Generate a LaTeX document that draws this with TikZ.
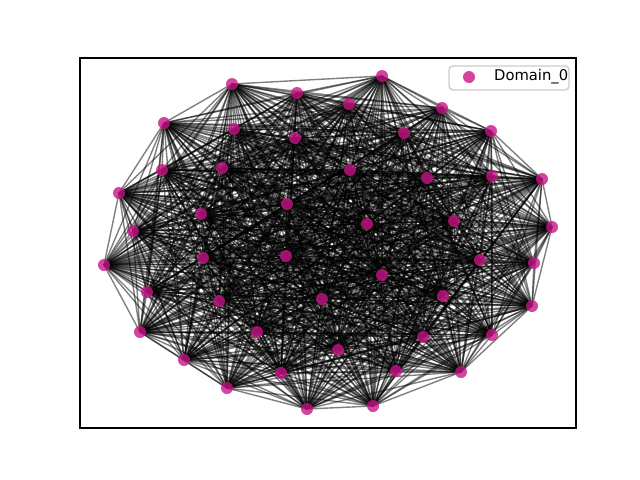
\documentclass[tikz,border=0pt]{standalone}
\usepackage{fontspec}
\setmainfont{DejaVu Sans}
\usepackage{xcolor}
\usepackage{tikz}

\definecolor{domain0}{HTML}{C71585}
\definecolor{legendedge}{HTML}{CCCCCC}

\begin{document}
\begin{tikzpicture}[x=0.5mm,y=-0.5mm]
\tikzset{
  vertex/.style={circle,fill=domain0,fill opacity=0.8,inner sep=0pt,minimum size=6mm},
  link/.style={black,opacity=0.5,line width=0.7mm},
  frame/.style={black,line width=0.56mm},
}
\useasboundingbox (0,0) rectangle (640,480);
% node positions
\foreach \px/\py [count=\k] in {
  232/84, 297/93, 164/123, 234/129, 295/138, 162/170, 222/168, 119/193,
  287/204, 201/214, 133/231, 382/76, 349/104, 442/108, 404/133, 491/131,
  350/170, 427/178, 492/176, 542/179, 367/224, 454/221, 552/227, 104/265,
  203/258, 286/256, 147/292, 219/301, 322/299, 140/332, 257/332, 184/360,
  281/373, 227/388, 307/409, 480/260, 534/263, 382/275, 443/296, 532/306,
  338/350, 423/337, 492/335, 396/371, 461/372, 373/406}
  \coordinate (n\k) at (\px,\py);
% edges
\foreach \i in {1,...,45} {
  \pgfmathtruncatemacro\nxt{\i+1}
  \foreach \j in {\nxt,...,46}
    \draw[link] (n\i) -- (n\j);
}
% vertices
\foreach \k in {1,...,46}
  \node[vertex] (v\k) at (n\k) {};
% axes
\draw[frame] (80,58) rectangle (576,428);
% legend
\draw[legendedge,fill=white,fill opacity=0.8,line width=0.7mm,rounded corners=2mm]
  (449,66) rectangle (569,90);
\node[vertex] (key) at (469,77) {};
\node[anchor=west,inner sep=0pt,font=\fontsize{21}{25}\selectfont] (keytext) at (494,77) {Domain\_0};
\end{tikzpicture}
\end{document}
